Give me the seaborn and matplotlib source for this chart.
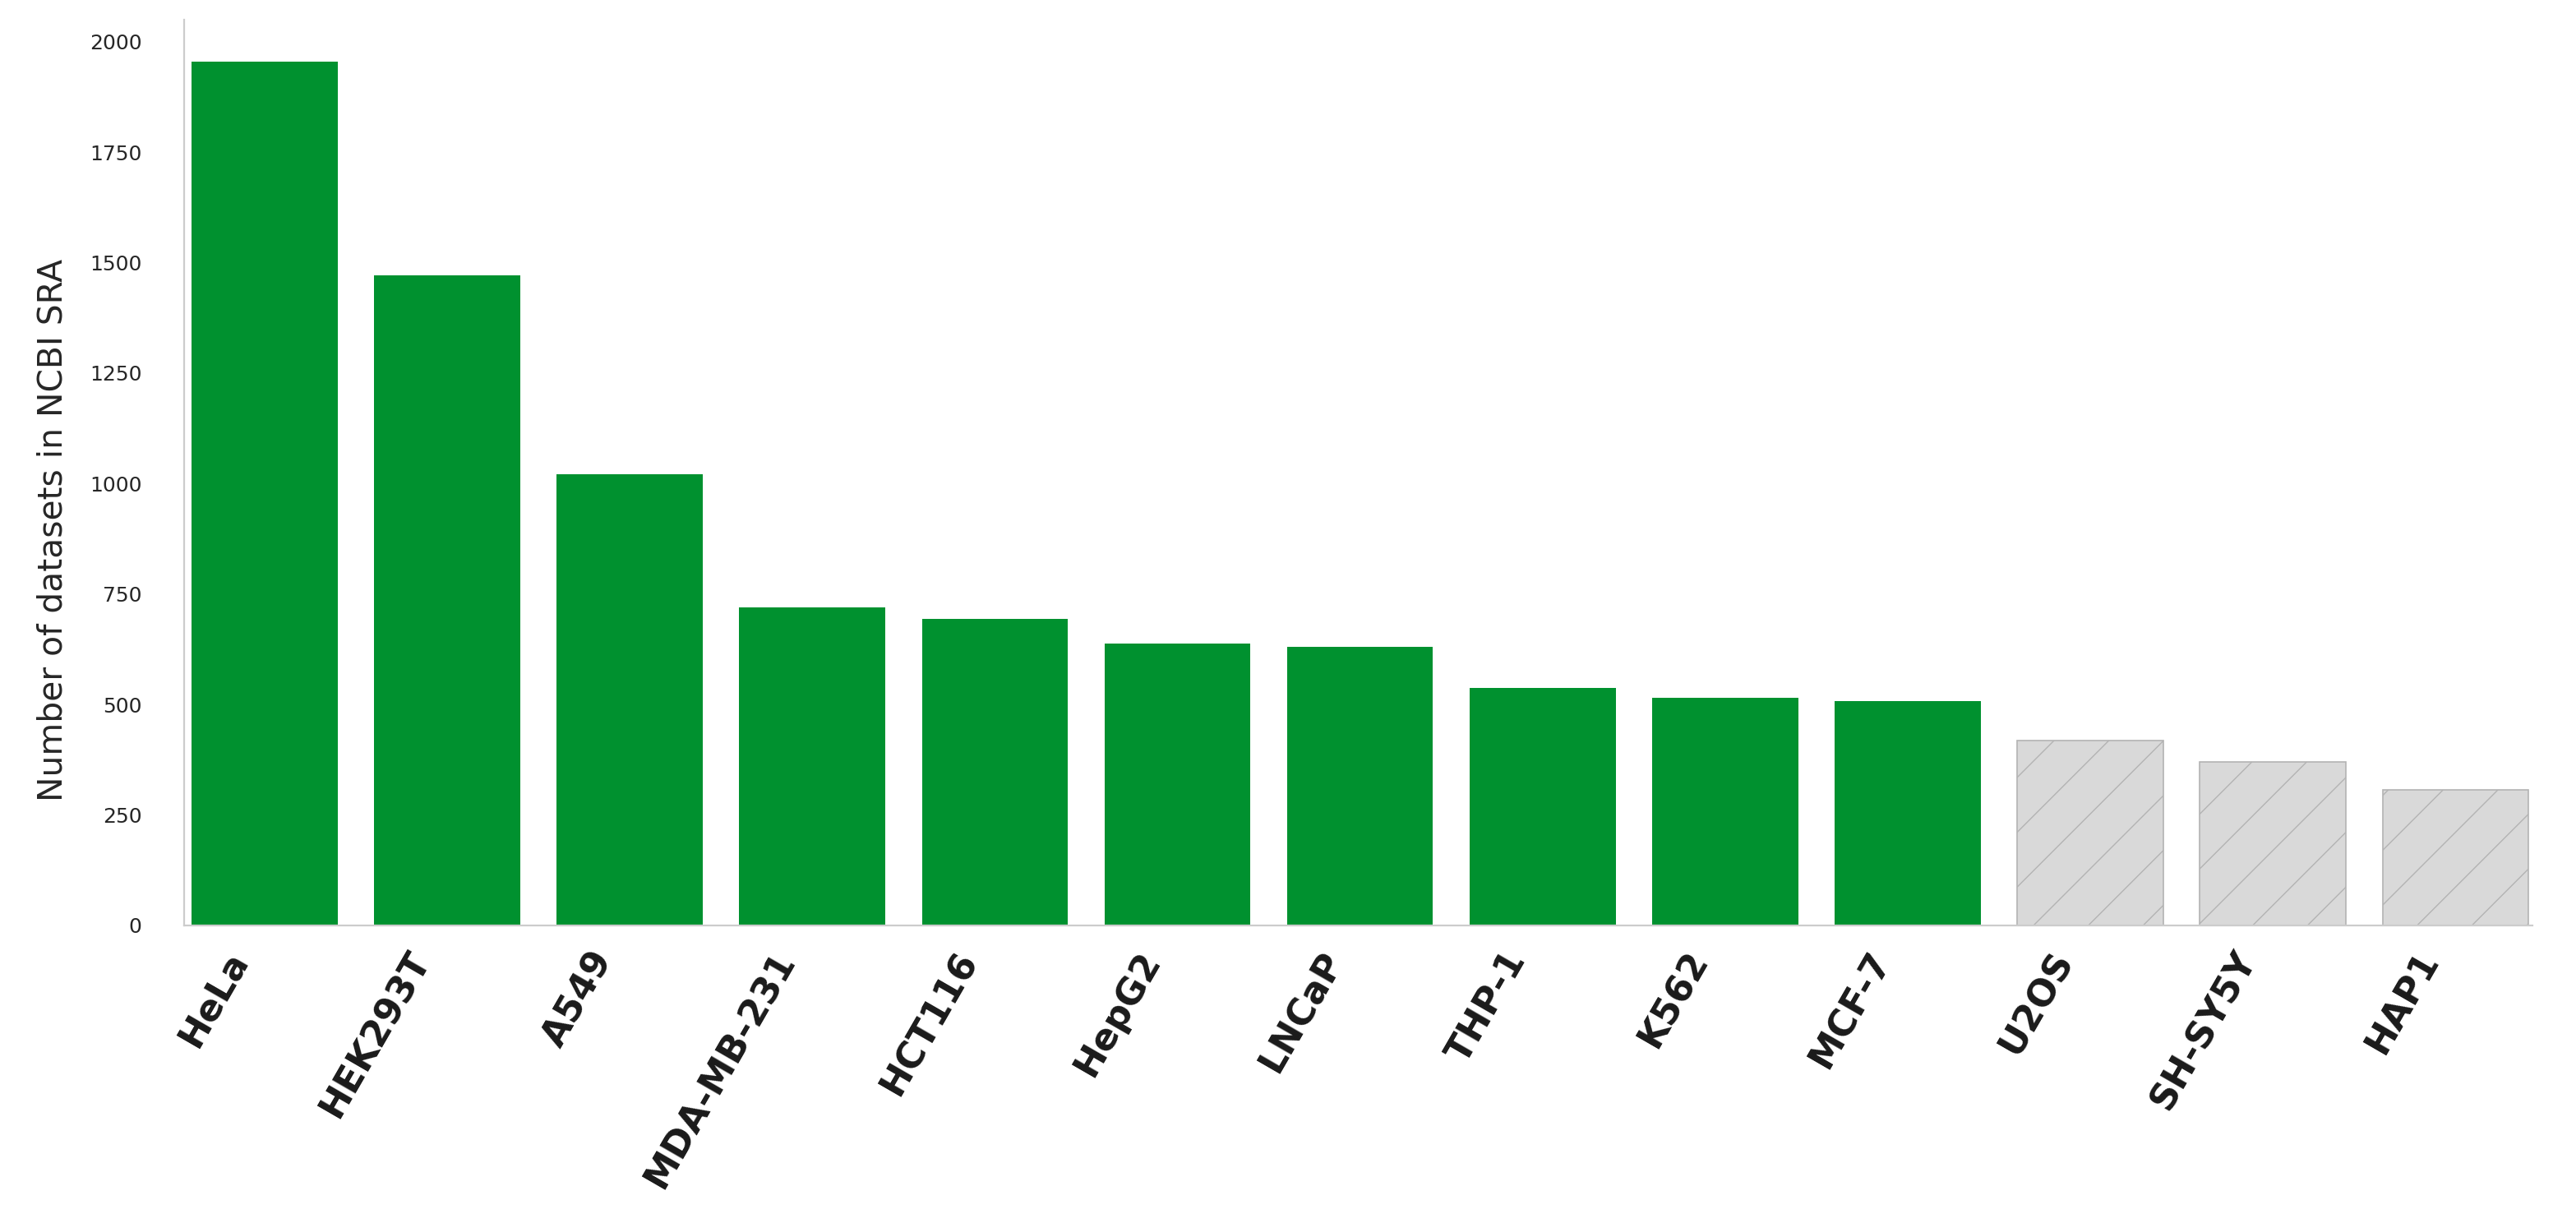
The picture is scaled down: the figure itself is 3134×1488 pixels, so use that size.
import pandas as pd
import matplotlib.pyplot as plt
import matplotlib.transforms as mtransforms
import seaborn as sns

# Dados
linhas_celulares = ['HeLa', 'HEK293T', 'A549', 'MDA-MB-231', 'HCT116', 'HepG2', 'LNCaP',
                    'THP-1', 'K562', 'MCF-7', 'U2OS', 'SH-SY5Y', 'HAP1']
n_datasets = [1955, 1472, 1022, 720, 694, 638, 630, 537, 515, 508, 418, 370, 307]
destaque = [True] * 10 + [False] * 3

df = pd.DataFrame({'Cell line': linhas_celulares, 'Datasets': n_datasets, 'Top': destaque})

sns.set_theme(style='white')
plt.rcParams['font.family'] = ['DejaVu Sans']
plt.rcParams['hatch.linewidth'] = 0.25

verde = '#00912f'
cinza = '#d9d9d9'
paleta = {c: (verde if t else cinza) for c, t in zip(linhas_celulares, destaque)}

fig = plt.figure(figsize=(7.835, 3.72), dpi=400)
ax = fig.add_axes([0.0715, 0.2433, 0.9115, 0.7407])

sns.barplot(data=df, x='Cell line', y='Datasets', hue='Cell line', palette=paleta,
            legend=False, width=0.8, linewidth=0, saturation=1, ax=ax)

# barras fora do top 10: hachuradas em cinza
for patch, t in zip(ax.patches, destaque):
    if not t:
        patch.set_edgecolor('#b3b3b3')
        patch.set_linewidth(0.3)
        patch.set_hatch('//')

ax.set_xlim(-0.44, len(linhas_celulares) - 0.58)
ax.set_ylim(0, 2050)
ax.set_yticks([0, 250, 500, 750, 1000, 1250, 1500, 1750, 2000])
ax.set_xlabel('')
ax.set_ylabel('Number of datasets in NCBI SRA', fontsize=7.35, color='#262626')
ax.yaxis.set_label_coords(-0.049, 0.436)

ax.tick_params(axis='y', length=0, labelsize=4.5, labelcolor='#262626', pad=9.3)
ax.tick_params(axis='x', length=0, pad=4.3)
deslocamento = mtransforms.ScaledTranslation(-0.03, 0, fig.dpi_scale_trans)
for rotulo in ax.get_xticklabels():
    rotulo.set_rotation(60)
    rotulo.set_ha('right')
    rotulo.set_fontsize(8.0)
    rotulo.set_fontweight('bold')
    rotulo.set_color('#1a1a1a')
    rotulo.set_transform(rotulo.get_transform() + deslocamento)

for lado in ['top', 'right']:
    ax.spines[lado].set_visible(False)
for lado in ['left', 'bottom']:
    ax.spines[lado].set_color('#cccccc')
    ax.spines[lado].set_linewidth(0.4)

fig.savefig('out.png', dpi=400)
